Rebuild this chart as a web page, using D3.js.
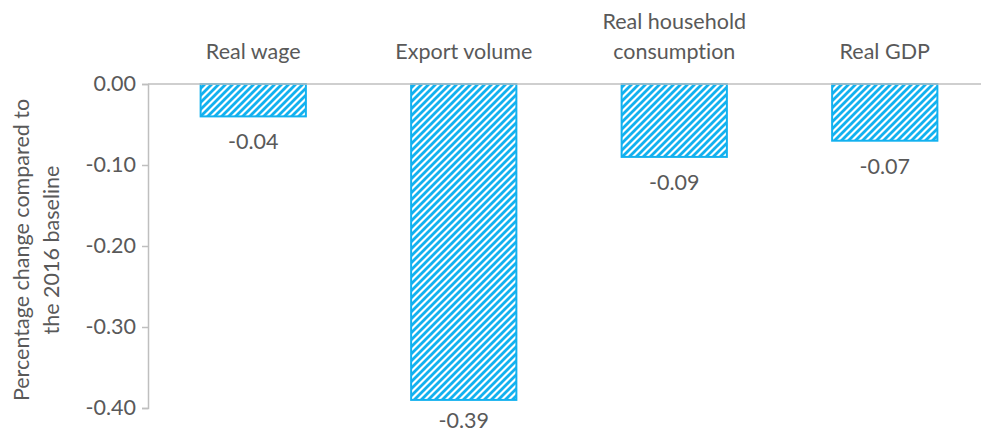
<!DOCTYPE html>
<html>
<head>
<meta charset="utf-8">
<script src="https://cdn.jsdelivr.net/npm/d3@7"></script>
<style>
  html, body { margin: 0; padding: 0; background: #fff; }
  svg { display: block; }
  text { font-family: Lato, "Open Sans", sans-serif; fill: #595959; font-variant-ligatures: none; }
</style>
</head>
<body>
<svg id="chart" width="981" height="435"></svg>
<script>
const categories = ["Real wage", "Export volume", "Real household consumption", "Real GDP"];
const categoryLines = [["Real wage"], ["Export volume"], ["Real household", "consumption"], ["Real GDP"]];
const values = [-0.04, -0.39, -0.09, -0.07];
const valueLabels = ["-0.04", "-0.39", "-0.09", "-0.07"];
const tickValues = [0, -0.1, -0.2, -0.3, -0.4];
const tickLabels = ["0.00", "-0.10", "-0.20", "-0.30", "-0.40"];
const yTitle = ["Percentage change compared to", "the 2016 baseline"];

const svg = d3.select("#chart");
const W = 981, H = 435;
const fs = 21.5;
const blue = "#12B1EF";

const x = d3.scaleBand().domain(categories).range([148, 990]).paddingInner(0.5).paddingOuter(0.25);
const y = d3.scaleLinear().domain([-0.4, 0]).range([408, 84]);

const defs = svg.append("defs");
const pat = defs.append("pattern")
  .attr("id", "stripes").attr("patternUnits", "userSpaceOnUse")
  .attr("width", 7).attr("height", 7);
pat.append("rect").attr("width", 7).attr("height", 7).attr("fill", "#fff");
pat.append("path").attr("d", "M0,0 L4,0 L0,4 Z M7,0 L7,4 L4,7 L0,7 Z").attr("fill", blue);

// bars
svg.append("g").selectAll("rect").data(categories).join("rect")
  .attr("x", d => x(d))
  .attr("y", y(0))
  .attr("width", x.bandwidth())
  .attr("height", (d, i) => y(values[i]) - y(0))
  .attr("fill", "url(#stripes)")
  .attr("stroke", blue).attr("stroke-width", 2);

// y axis
const yAxis = d3.axisLeft(y).tickValues(tickValues).tickSize(6).tickPadding(6)
  .tickFormat((d, i) => tickLabels[i]);
const gy = svg.append("g").attr("transform", "translate(148,0)").call(yAxis);
gy.select(".domain").attr("stroke", "#BFBFBF").attr("stroke-width", 1.5);
gy.selectAll(".tick line").attr("stroke", "#BFBFBF").attr("stroke-width", 1.5);
gy.selectAll(".tick text").attr("font-size", fs).attr("font-family", "Lato").attr("fill", "#595959");

// zero line
svg.append("line").attr("x1", 148).attr("x2", W).attr("y1", y(0)).attr("y2", y(0))
  .attr("stroke", "#BFBFBF").attr("stroke-width", 1.5);

// category labels
const cl = svg.append("g").selectAll("text").data(categories).join("text")
  .attr("x", d => x(d) + x.bandwidth() / 2)
  .attr("text-anchor", "middle").attr("font-size", fs);
cl.each(function(d, i) {
  const lines = categoryLines[i];
  const t = d3.select(this);
  lines.forEach((ln, j) => {
    t.append("tspan").attr("x", x(d) + x.bandwidth() / 2)
      .attr("y", 59 - (lines.length - 1 - j) * 30).text(ln);
  });
});

// value labels
svg.append("g").selectAll("text").data(categories).join("text")
  .attr("x", d => x(d) + x.bandwidth() / 2)
  .attr("y", (d, i) => Math.min(y(values[i]) + 33, 428))
  .attr("text-anchor", "middle").attr("font-size", fs)
  .text((d, i) => valueLabels[i]);

// y title
const yt = svg.append("text").attr("transform", "translate(0,250) rotate(-90)")
  .attr("text-anchor", "middle").attr("font-size", fs);
yTitle.forEach((ln, j) => yt.append("tspan").attr("x", 0).attr("y", 29 + j * 30).text(ln));
</script>
</body>
</html>
